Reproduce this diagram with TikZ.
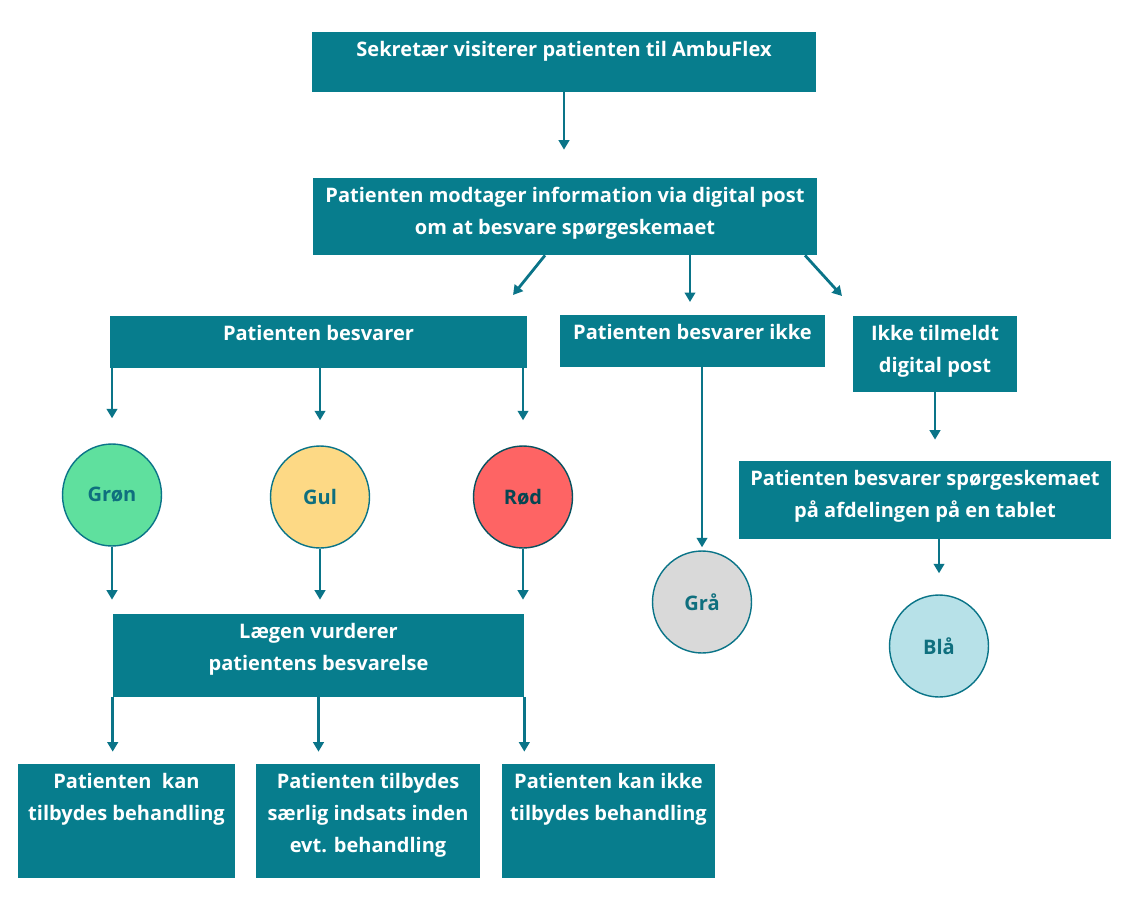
\documentclass[tikz,border=0pt]{standalone}
\usepackage{fontspec}
\setmainfont{Open Sans}
\usetikzlibrary{arrows.meta,shapes.geometric,calc}
\definecolor{boxteal}{HTML}{077D8D}
\definecolor{lineteal}{HTML}{0A7488}
\definecolor{ctext}{HTML}{0F6F7E}
\definecolor{cgreen}{HTML}{5FE09E}
\definecolor{cyellow}{HTML}{FDD985}
\definecolor{cred}{HTML}{FE6464}
\definecolor{cgrey}{HTML}{D9D9D9}
\definecolor{cblue}{HTML}{B7E1E8}
\tikzset{
  box/.style={rectangle, fill=boxteal, draw=none, inner sep=0pt},
  lbl/.style={anchor=north, inner sep=0pt, yshift=-0.19cm, text=white, align=center,
    font=\fontsize{11.4}{18.2}\selectfont\bfseries},
  blabel/.style={label={[lbl]90:#1}},
  dot/.style={ellipse, draw=lineteal, line width=0.8pt, minimum width=1.98cm, minimum height=2.04cm,
    inner sep=0pt, text=ctext, font=\fontsize{11.4}{13}\selectfont\bfseries},
  arr/.style={draw=lineteal, line width=1.6pt, -{Triangle[width=0.21cm,length=0.19cm]}}
}
\begin{document}
\begin{tikzpicture}[x=0.02cm,y=-0.02cm]
\useasboundingbox (0,0) rectangle (1136,912);
% boxes
\node[box, minimum width=10.08cm, minimum height=1.2cm, blabel={Sekretær visiterer patienten til AmbuFlex}] (b1) at (564,62) {};
\node[box, minimum width=10.08cm, minimum height=1.54cm, blabel={Patienten modtager information via digital post\\om at besvare spørgeskemaet}] (b2) at (565,216.5) {};
\node[box, minimum width=8.34cm, minimum height=1.04cm, blabel={Patienten besvarer}] (b3) at (318.5,342) {};
\node[box, minimum width=5.3cm, minimum height=1.04cm, blabel={Patienten besvarer ikke}] (b4) at (692.5,341) {};
\node[box, minimum width=3.28cm, minimum height=1.52cm, blabel={Ikke tilmeldt\\digital post}] (b5) at (935,354) {};
\node[box, minimum width=7.44cm, minimum height=1.56cm, blabel={Patienten besvarer spørgeskemaet\\på afdelingen på en tablet}] (b6) at (925,500) {};
\node[box, minimum width=8.22cm, minimum height=1.66cm, blabel={Lægen vurderer\\patientens besvarelse}] (lg) at (318.5,655.5) {};
\node[box, minimum width=4.34cm, minimum height=2.28cm, blabel={Patienten\ \ kan\\tilbydes behandling}] (p1) at (126.5,821) {};
\node[box, minimum width=4.48cm, minimum height=2.28cm, blabel={Patienten tilbydes\\særlig indsats inden\\evt. behandling}] (p2) at (368,821) {};
\node[box, minimum width=4.26cm, minimum height=2.28cm, blabel={Patienten kan ikke\\tilbydes behandling}] (p3) at (608.5,821) {};
% circles
\node[dot, fill=cgreen] (gron) at (112,495) {Grøn};
\node[dot, fill=cyellow] (gul) at (320,497) {Gul};
\node[dot, fill=cred, draw=lineteal!70!black, text=lineteal!60!black] (rod) at (523,497) {Rød};
\node[dot, fill=cgrey] (gra) at (702,602) {Grå};
\node[dot, fill=cblue] (bla) at (939,646) {Blå};
% free ends
\coordinate (e1) at (513,295);
\coordinate (e2) at (690,302);
\coordinate (e3) at (842,296);
% connectors
\draw[arr, shorten >=0.56cm] (b1.south) -- (b1.south |- b2.north);
\draw[arr] ($(b2.south)+(-20,0)$) -- (e1);
\draw[arr] (b2.south -| e2) -- (e2);
\draw[arr] ($(b2.south)+(240,0)$) -- (e3);
\draw[arr, shorten >=0.5cm] (b3.south -| gron) -- (gron.north);
\draw[arr, shorten >=0.5cm] (b3.south -| gul) -- (gul.north);
\draw[arr, shorten >=0.5cm] (b3.south -| rod) -- (rod.north);
\draw[arr, shorten >=0.28cm] (gron.south) -- (gron.south |- lg.north);
\draw[arr, shorten >=0.28cm] (gul.south) -- (gul.south |- lg.north);
\draw[arr, shorten >=0.28cm] (rod.south) -- (rod.south |- lg.north);
\draw[arr, shorten >=0.24cm] (lg.south west) -- (lg.south west |- p1.north);
\draw[arr, shorten >=0.24cm] (lg.south) -- (lg.south |- p2.north);
\draw[arr, shorten >=0.24cm] (lg.south east) -- (lg.south east |- p3.north);
\draw[arr, shorten >=0.06cm] (b4.south -| gra) -- (gra.north);
\draw[arr, shorten >=0.42cm] (b5.south) -- (b5.south |- b6.north);
\draw[arr, shorten >=0.42cm] (b6.south -| bla) -- (bla.north);
\end{tikzpicture}
\end{document}
